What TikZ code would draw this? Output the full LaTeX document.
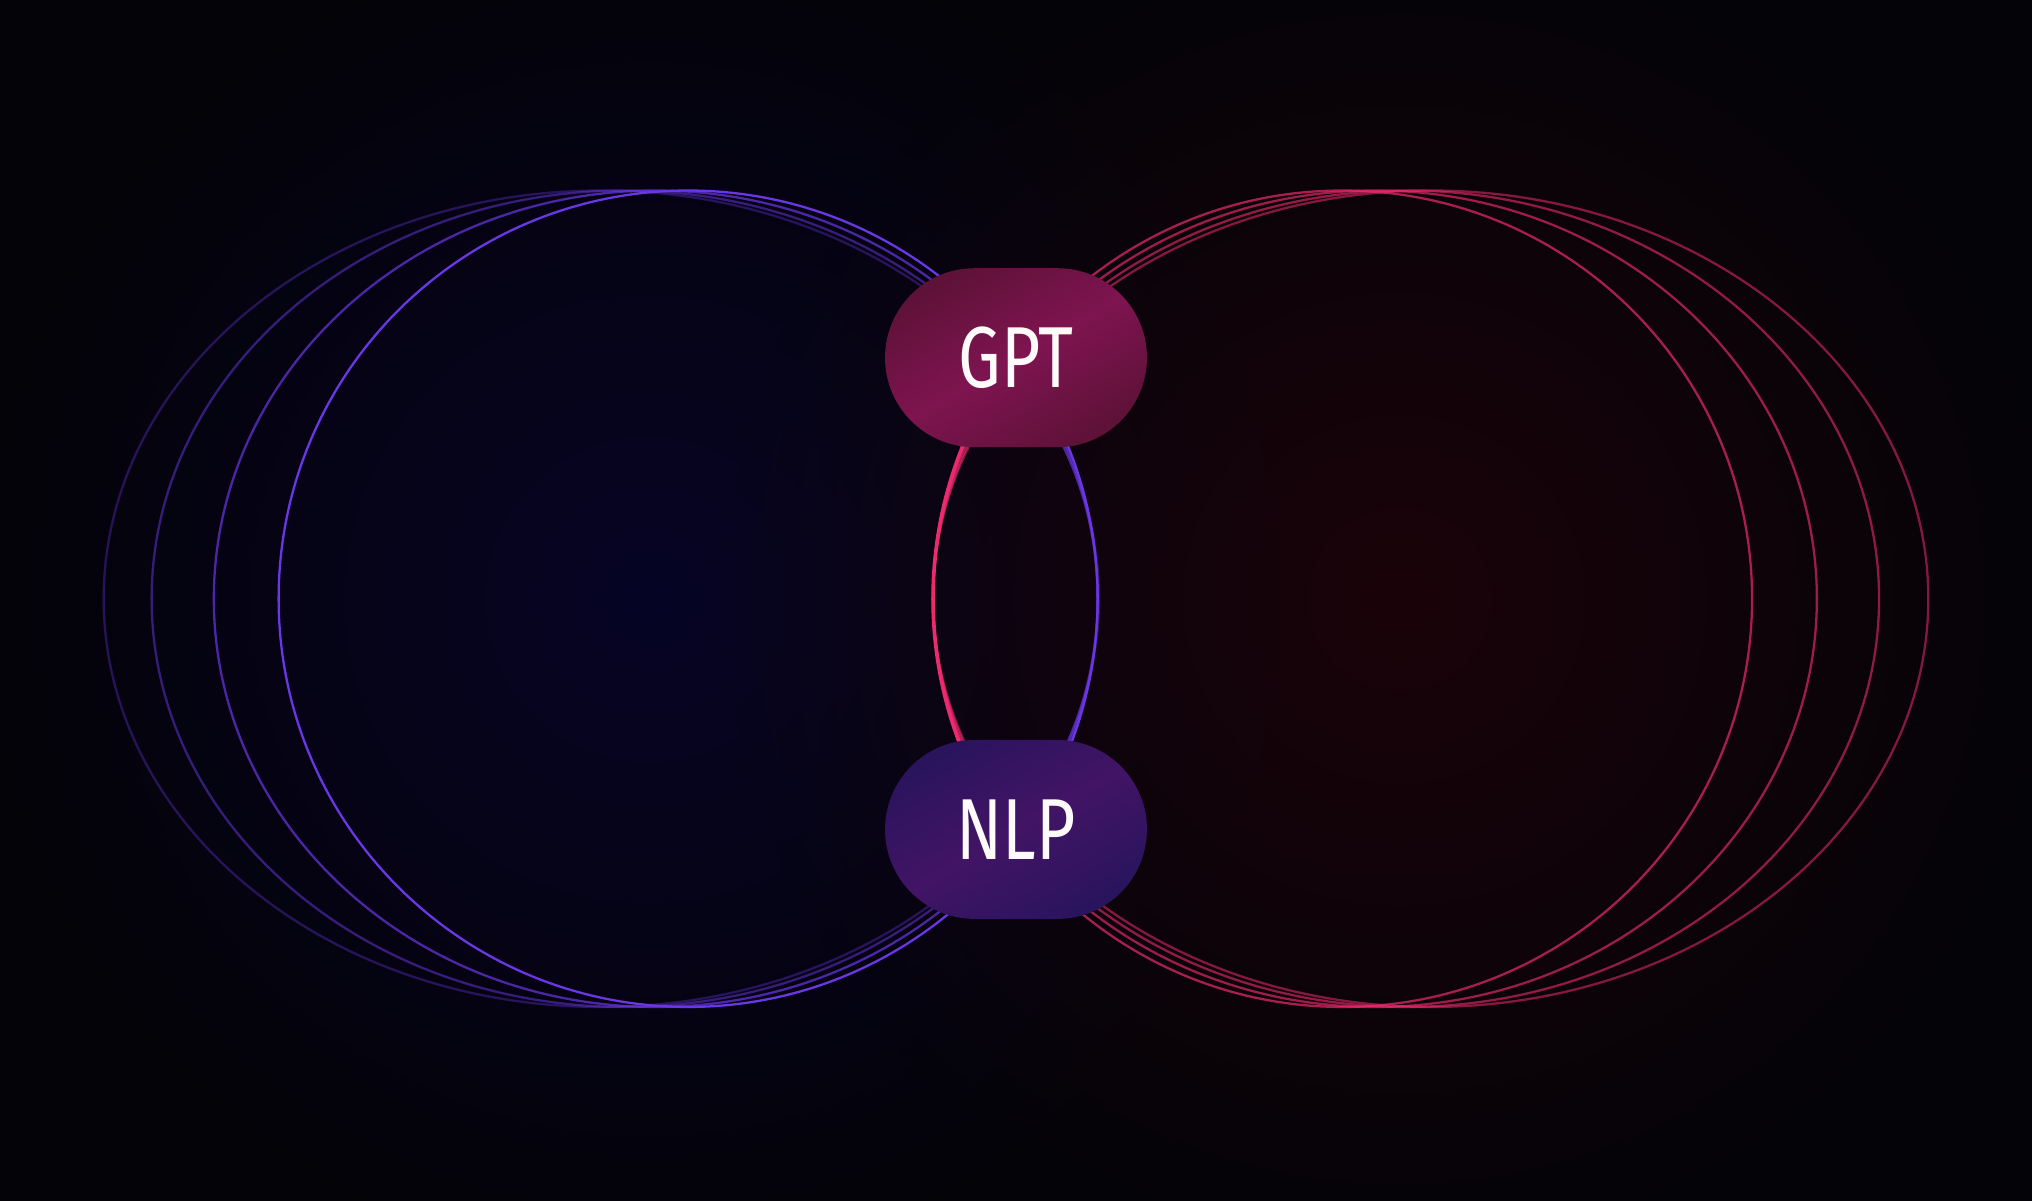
\documentclass[tikz,border=0pt]{standalone}
\usepackage{fontspec}
\setsansfont{Fira Sans}
\usetikzlibrary{positioning,fadings}
\definecolor{bgdark}{HTML}{040308}
\definecolor{glowblue}{HTML}{070525}
\definecolor{glowred}{HTML}{1A040A}
\definecolor{ringblue}{HTML}{6B36E6}
\definecolor{ringred}{HTML}{EC2A6E}
\definecolor{pillred}{HTML}{5E1238}
\definecolor{pillredhi}{HTML}{7E1450}
\definecolor{pillblue}{HTML}{2A145E}
\definecolor{pillbluehi}{HTML}{421466}
\tikzfading[name=glowfade, inner color=transparent!0, outer color=transparent!100]
\tikzset{
  ring/.style={line width=0.5pt},
  pill/.style={rounded corners=0.69cm, minimum width=2.02cm, minimum height=1.38cm,
    inner sep=0pt, text=white!92!pink, font=\sffamily\fontsize{19}{19}\selectfont}
}
\newcommand{\pilltext}[1]{\scalebox{0.78}[1]{#1}}
\begin{document}
\begin{tikzpicture}[x=0.01cm,y=-0.01cm]
    \useasboundingbox (0,0) rectangle (1568,926);
    % background
    \fill[bgdark] (-10,-10) rectangle (1578,936);
    \fill[glowblue, path fading=glowfade] (500,462) circle (520);
    \fill[glowred, path fading=glowfade] (1080,462) circle (520);

    % left rings
    \draw[ring, ringblue, opacity=0.35] (464,462) ellipse (384 and 315);
    \draw[ring, ringblue, opacity=0.5] (482,462) ellipse (365 and 315);
    \draw[ring, ringblue, opacity=0.7] (506,462) ellipse (341 and 315);
    \draw[ring, ringblue] (531,462) ellipse (316 and 315);
    % right rings
    \draw[ring, ringred, opacity=0.55] (1104,462) ellipse (384 and 315);
    \draw[ring, ringred, opacity=0.6] (1085,462) ellipse (365 and 315);
    \draw[ring, ringred, opacity=0.65] (1061,462) ellipse (341 and 315);
    \draw[ring, ringred, opacity=0.7] (1036,462) ellipse (316 and 315);
    % bright inner arc between the pills
    \draw[ring, ringred, line width=0.8pt] (1036,462) ++(150:316 and 315) arc[start angle=150, end angle=210, x radius=316, y radius=315];

    % pills
    \node[pill, left color=pillred, right color=pillred, middle color=pillredhi, shading angle=30] (gpt) at (784,276) {\pilltext{GPT}};
    \node[pill, left color=pillblue, right color=pillblue, middle color=pillbluehi, shading angle=30] (nlp) at (784,640) {\pilltext{NLP}};
\end{tikzpicture}
\end{document}
